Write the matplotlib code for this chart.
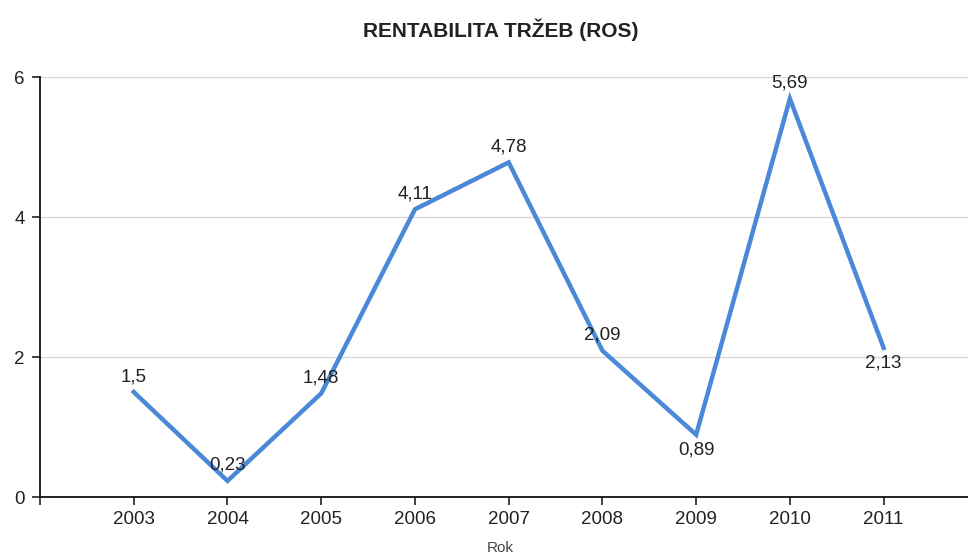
import matplotlib
matplotlib.use("Agg")
import matplotlib.pyplot as plt

# chart data
years = [2003, 2004, 2005, 2006, 2007, 2008, 2009, 2010, 2011]
ros = [1.5, 0.23, 1.48, 4.11, 4.78, 2.09, 0.89, 5.69, 2.13]
labels = ["1,5", "0,23", "1,48", "4,11", "4,78", "2,09", "0,89", "5,69", "2,13"]
# where each value label sits relative to the point
label_side = ["above", "above", "above", "above", "above", "above", "below", "above", "below"]
y_ticks = [0, 2, 4, 6]

plt.rcParams['font.family'] = ['Liberation Sans', 'DejaVu Sans']

fig = plt.figure(figsize=(9.68, 5.59), dpi=100)
ax = fig.add_axes([40 / 968, 1 - 497 / 559, 1 - 40 / 968, (497 - 77) / 559])

ax.plot(years, ros, color='#4a88d8', linewidth=3.2, solid_joinstyle='miter', zorder=3)

for x, y, txt, side in zip(years, ros, labels, label_side):
    if side == "above":
        ax.annotate(txt, (x, y), xytext=(0, 5), textcoords='offset points',
                    ha='center', va='bottom', fontsize=13.5, color='#222222', zorder=4)
    else:
        ax.annotate(txt, (x, y), xytext=(0, -5), textcoords='offset points',
                    ha='center', va='top', fontsize=13.5, color='#222222', zorder=4)

ax.set_xlim(2002, 2011.9)
ax.set_ylim(0, 6)
ax.set_xticks([2002] + years)
ax.set_xticklabels([""] + [str(y) for y in years])
ax.set_yticks(y_ticks)
ax.tick_params(axis='both', labelsize=13.5, colors='#222222', length=6, width=1.2)
ax.tick_params(axis='x', pad=4)
ax.tick_params(axis='y', pad=5)
ax.grid(axis='y', color='#d8d8d8', linewidth=1)
ax.set_axisbelow(True)

for s in ['top', 'right']:
    ax.spines[s].set_visible(False)
for s in ['left', 'bottom']:
    ax.spines[s].set_linewidth(1.3)
    ax.spines[s].set_color('#111111')

fig.text(501 / 968, 1 - 30 / 559, "RENTABILITA TRŽEB (ROS)", ha='center', va='center',
         fontsize=15, fontweight='bold', color='#222222')
fig.text(500 / 968, 1 - 548 / 559, "Rok", ha='center', va='center', fontsize=11, color='#444444')

fig.savefig("out.png", dpi=100)
